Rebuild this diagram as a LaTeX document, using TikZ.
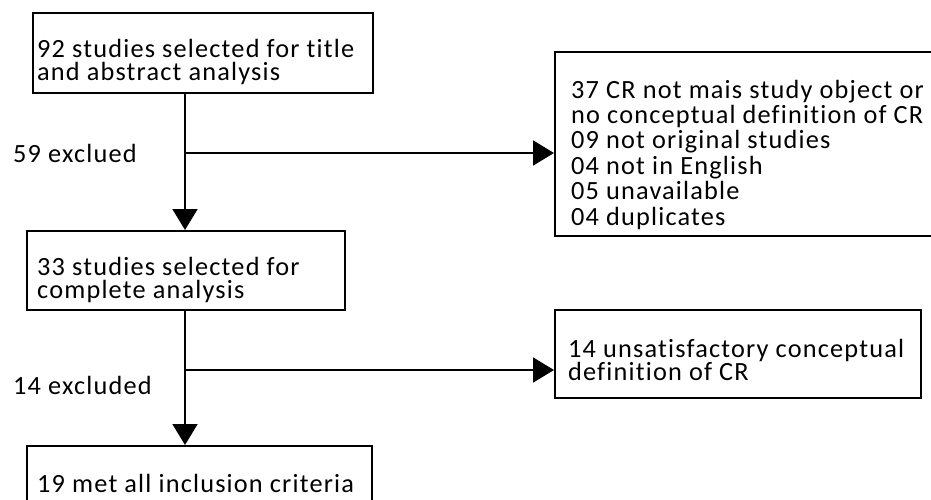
\documentclass[tikz,border=0pt]{standalone}
\usepackage{fontspec}
\setmainfont[Ligatures=NoCommon,LetterSpace=4.5]{Carlito}
\usetikzlibrary{arrows.meta}
\tikzset{
  box/.style={draw=black, line width=1.8pt, rectangle, inner sep=0pt, anchor=north west},
  txt/.style={anchor=base west, inner sep=0pt, align=left, font=\fontsize{26.3}{23}\selectfont},
  txtw/.style={anchor=base west, inner sep=0pt, align=left, font=\fontsize{26.3}{25.4}\selectfont},
  conn/.style={line width=1.8pt, -{Triangle[length=21pt,width=25pt]}},
}
\begin{document}
\begin{tikzpicture}[x=1pt,y=-1pt]
\useasboundingbox (0,0) rectangle (931,500);
\clip (0,0) rectangle (931,500);
% boxes
\node[box, minimum width=340pt, minimum height=80pt] (b1) at (32,12) {};
\node[box, minimum width=400pt, minimum height=184pt] (b2) at (554,51) {};
\node[box, minimum width=318pt, minimum height=79pt] (b3) at (26,230) {};
\node[box, minimum width=345pt, minimum height=80pt] (b4) at (26,445) {};
\node[box, minimum width=366pt, minimum height=88pt] (b5) at (554,309) {};
% texts (anchored at the baseline of the last line)
\node[txt] (t1) at (37,81) {92 studies selected for title\\and abstract analysis};
\node[txtw] (t2) at (571,225) {37 CR not mais study object or\\no conceptual definition of CR\\09 not original studies\\04 not in English\\05 unavailable\\04 duplicates};
\node[txt] (t3) at (37,298) {33 studies selected for\\complete analysis};
\node[txt] (t4) at (37,492) {19 met all inclusion criteria};
\node[txt] (t5) at (568,380) {14 unsatisfactory conceptual\\definition of CR};
\node[txt] (l1) at (13,162) {59 exclued};
\node[txt] (l2) at (13,394) {14 excluded};
% connectors
\coordinate (c1) at (185,153);
\coordinate (c2) at (185,370);
\draw[conn] (b1.south -| c1) -- (b3.north -| c1);
\draw[conn] (c1) -- (c1 -| b2.west);
\draw[conn] (b3.south -| c2) -- (b4.north -| c2);
\draw[conn] (c2) -- (c2 -| b5.west);
\end{tikzpicture}
\end{document}
